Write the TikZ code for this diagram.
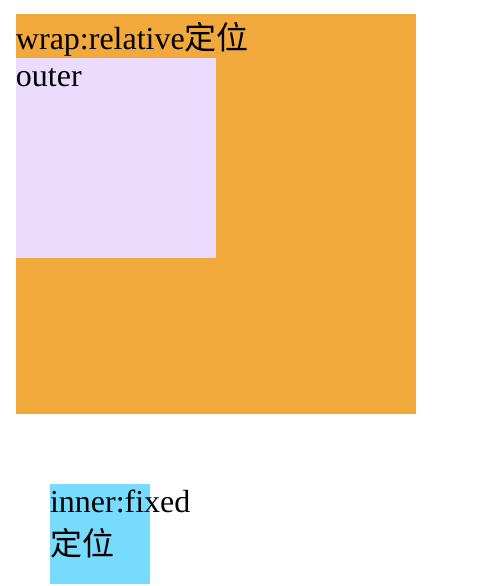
\documentclass[tikz,border=0pt]{standalone}
\usepackage{fontspec}
\setmainfont{Liberation Serif}
\newfontfamily\cjk{Noto Sans CJK SC}
\definecolor{wraporange}{HTML}{F2A93B}
\definecolor{outerlav}{HTML}{EBDCFD}
\definecolor{innerblue}{HTML}{77DBFE}
\begin{document}
\begin{tikzpicture}[x=1pt,y=-1pt,
  lbl/.style={anchor=base west,inner sep=0pt,outer sep=0pt,font=\fontsize{32}{44}\selectfont}]
\useasboundingbox (0,0) rectangle (488,586);
\fill[wraporange] (16,14) rectangle (416,414);
\fill[outerlav] (16,58) rectangle (216,258);
\fill[innerblue] (50,484) rectangle (150,584);
\node[lbl] (wraptxt) at (16,50) {wrap:relative{\cjk 定位}};
\node[lbl] (outertxt) at (16,86) {outer};
\node[lbl] (innertxt) at (50,512) {inner:fixed};
\node[lbl] (innertxt2) at (50,555) {\cjk 定位};
\end{tikzpicture}
\end{document}
